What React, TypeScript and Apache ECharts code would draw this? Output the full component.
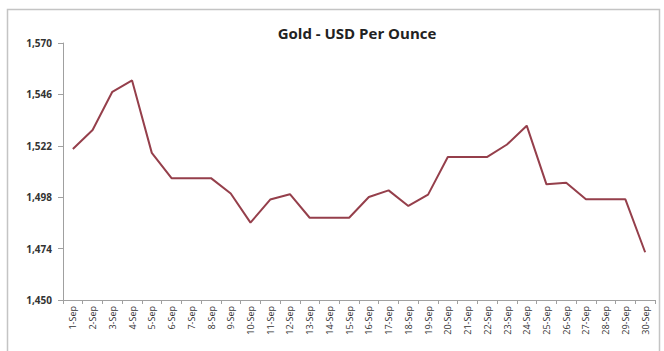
import React, { useEffect, useRef } from "react";
import * as echarts from "echarts";

const categories = [
  "1-Sep", "2-Sep", "3-Sep", "4-Sep", "5-Sep", "6-Sep", "7-Sep", "8-Sep", "9-Sep", "10-Sep",
  "11-Sep", "12-Sep", "13-Sep", "14-Sep", "15-Sep", "16-Sep", "17-Sep", "18-Sep", "19-Sep", "20-Sep",
  "21-Sep", "22-Sep", "23-Sep", "24-Sep", "25-Sep", "26-Sep", "27-Sep", "28-Sep", "29-Sep", "30-Sep",
];

const goldPrices = [
  1520.5, 1529.4, 1547.2, 1552.5, 1518.7, 1506.9, 1506.9, 1506.9, 1499.7, 1486.1,
  1496.9, 1499.4, 1488.4, 1488.4, 1488.4, 1498.1, 1501.2, 1493.9, 1499.2, 1516.8,
  1516.8, 1516.8, 1522.6, 1531.4, 1504.0, 1504.7, 1497.0, 1497.0, 1497.0, 1472.3,
];

const yMin = 1450;
const yMax = 1570;
const yStep = 24;

const titleText = "Gold - USD Per Ounce";

export default function App() {
  const ref = useRef<HTMLDivElement>(null);

  useEffect(() => {
    if (!ref.current) return;
    const chart = echarts.init(ref.current, null, { renderer: "svg" });
    chart.setOption({
      animation: false,
      backgroundColor: "#ffffff",
      title: {
        text: titleText,
        left: 352,
        top: 20,
        textAlign: "center",
        textStyle: {
          fontFamily: "Open Sans",
          fontWeight: "bold",
          fontSize: 15,
          color: "#222222",
        },
      },
      graphic: [
        {
          type: "rect",
          shape: { x: 7.5, y: 9.5, width: 652, height: 360 },
          style: { fill: "none", stroke: "#c4c4c4", lineWidth: 1.5 },
          silent: true,
        },
      ],
      grid: { left: 63, right: 9, top: 43, bottom: 51 },
      xAxis: {
        type: "category",
        data: categories,
        boundaryGap: true,
        axisLine: { lineStyle: { color: "#a0a0a0", width: 1 } },
        axisTick: { show: true, length: 4, lineStyle: { color: "#a0a0a0" } },
        axisLabel: {
          rotate: 90,
          interval: 0,
          fontFamily: "Open Sans",
          fontSize: 9,
          color: "#333333",
          margin: 6,
        },
      },
      yAxis: {
        type: "value",
        min: yMin,
        max: yMax,
        interval: yStep,
        splitLine: { show: false },
        axisLine: { show: true, lineStyle: { color: "#a0a0a0", width: 1 } },
        axisTick: { show: true, length: 5, lineStyle: { color: "#a0a0a0" } },
        axisLabel: {
          fontFamily: "Open Sans",
          fontWeight: "bold",
          fontSize: 10,
          color: "#333333",
          margin: 11,
          formatter: (v: number) => v.toLocaleString("en-US"),
        },
      },
      series: [
        {
          type: "line",
          data: goldPrices,
          symbol: "none",
          lineStyle: { color: "#953f4b", width: 2 },
        },
      ],
    });
    return () => chart.dispose();
  }, []);

  return (
    <div
      ref={ref}
      style={{ position: "absolute", left: 0, top: 0, width: 664, height: 351 }}
    />
  );
}
